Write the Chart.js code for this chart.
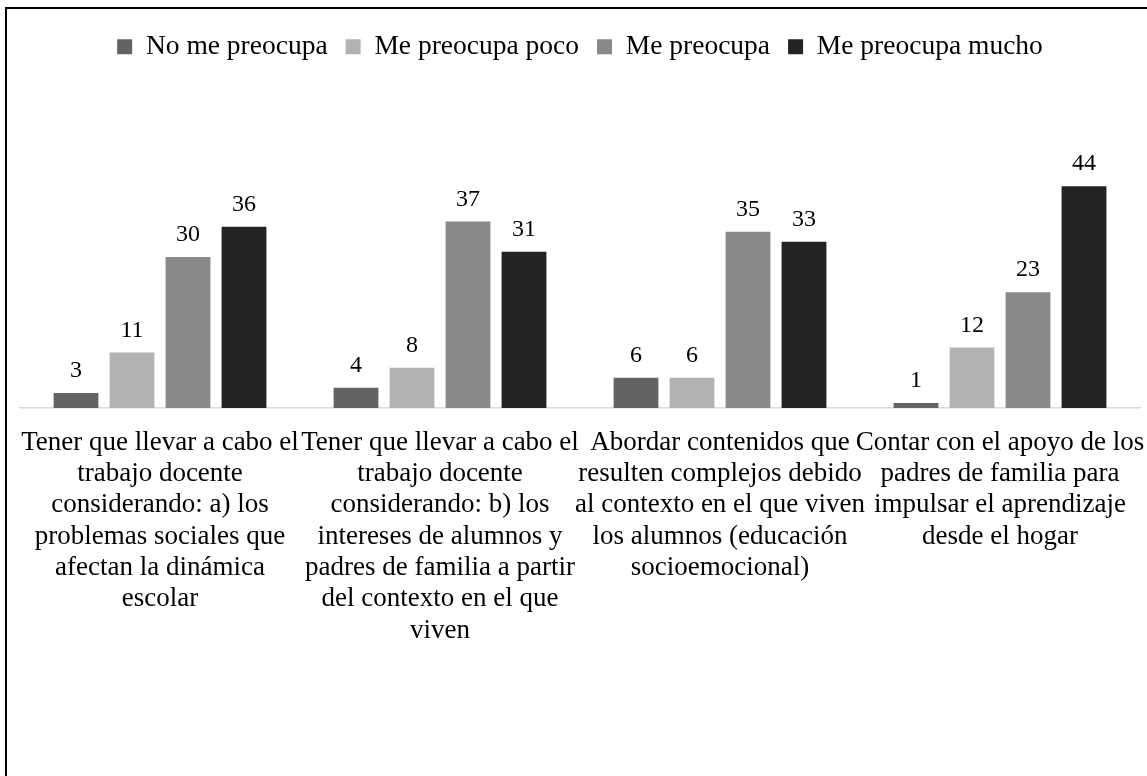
<!DOCTYPE html>
<html>
<head>
<meta charset="utf-8">
<script src="https://cdn.jsdelivr.net/npm/chart.js@4"></script>
<style>
    html, body { margin: 0; background: #fff; overflow: hidden; }
    #marco { position: absolute; left: 5px; top: 7px; width: 1300px; height: 900px; border: 2px solid #000; }
    #caja { position: absolute; left: 0; top: 0; width: 1147px; height: 776px; }
</style>
</head>
<body>
<div id="marco"></div>
<div id="caja"><canvas id="grafica"></canvas></div>
<script>
const categorias = [
    ["Tener que llevar a cabo el", "trabajo docente", "considerando: a) los", "problemas sociales que", "afectan la dinámica", "escolar"],
    ["Tener que llevar a cabo el", "trabajo docente", "considerando: b) los", "intereses de alumnos y", "padres de familia a partir", "del contexto en el que", "viven"],
    ["Abordar contenidos que", "resulten complejos debido", "al contexto en el que viven", "los alumnos (educación", "socioemocional)"],
    ["Contar con el apoyo de los", "padres de familia para", "impulsar el aprendizaje", "desde el hogar"]
];
const series = ["No me preocupa", "Me preocupa poco", "Me preocupa", "Me preocupa mucho"];
const noMePreocupa = [3, 4, 6, 1];
const mePreocupaPoco = [11, 8, 6, 12];
const mePreocupa = [30, 37, 35, 23];
const mePreocupaMucho = [36, 31, 33, 44];
const colores = ["#636363", "#b2b2b2", "#898989", "#232323"];

const fuente = "'Liberation Serif', 'Times New Roman', serif";

// numeros encima de cada barra
const etiquetas = {
    id: "etiquetas",
    afterDatasetsDraw(chart) {
        const ctx = chart.ctx;
        ctx.save();
        ctx.font = "24px " + fuente;
        ctx.fillStyle = "#000";
        ctx.textAlign = "center";
        ctx.textBaseline = "alphabetic";
        chart.data.datasets.forEach((ds, i) => {
            chart.getDatasetMeta(i).data.forEach((bar, j) => {
                ctx.fillText(ds.data[j], bar.x, bar.y - 16);
            });
        });
        ctx.restore();
    }
};

const valores = [noMePreocupa, mePreocupaPoco, mePreocupa, mePreocupaMucho];

new Chart("grafica", {
    type: "bar",
    data: {
        labels: categorias,
        datasets: series.map((s, i) => ({
            label: s,
            data: valores[i],
            backgroundColor: colores[i],
            borderWidth: 0,
            categoryPercentage: 0.8,
            barPercentage: 0.8
        }))
    },
    options: {
        responsive: true,
        maintainAspectRatio: false,
        animation: false,
        layout: { padding: { left: 20, right: 7, top: 15, bottom: 0 } },
        plugins: {
            legend: {
                position: "top",
                labels: {
                    boxWidth: 15,
                    boxHeight: 15,
                    padding: 18,
                    color: "#000",
                    font: { family: fuente, size: 27.5 }
                }
            },
            tooltip: { enabled: false }
        },
        scales: {
            x: {
                grid: { display: false, drawTicks: false },
                border: { display: true, color: "#d9d9d9", width: 1.5 },
                ticks: {
                    color: "#000",
                    padding: 19,
                    maxRotation: 0,
                    minRotation: 0,
                    autoSkip: false,
                    font: { family: fuente, size: 27, lineHeight: 1.16 }
                },
                afterFit: function(scale) {
                    scale.height = 368;
                    // las etiquetas no deben empujar el area del grafico
                    scale.paddingLeft = 0;
                    scale.paddingRight = 0;
                }
            },
            y: {
                display: false,
                min: 0,
                max: 67
            }
        }
    },
    plugins: [etiquetas]
});
</script>
</body>
</html>
